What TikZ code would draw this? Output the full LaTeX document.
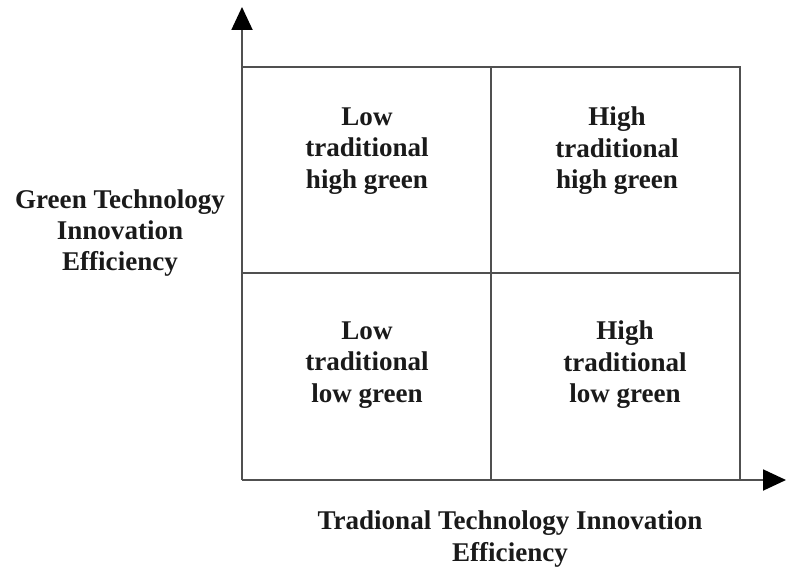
\documentclass[tikz,border=0pt]{standalone}
\usepackage{fontspec}
\setmainfont{Liberation Serif}
\usepackage{xcolor}
\usetikzlibrary{arrows.meta,calc}

\definecolor{gridgray}{HTML}{505050}
\definecolor{textblack}{HTML}{1A1A1A}

\begin{document}
\begin{tikzpicture}[x=0.02cm,y=-0.02cm,
    gridline/.style={draw=gridgray, line width=1.1pt},
    axisline/.style={gridline, -{Triangle[length=0.46cm,width=0.42cm,color=black]}},
    celltext/.style={align=center, text=textblack, font=\fontsize{15.4}{17.9}\selectfont\bfseries},
  ]
        \useasboundingbox (0,0) rectangle (786,567);

        \coordinate (o) at (242,480);
        \coordinate (ytip) at (242,7);
        \coordinate (xtip) at (786,480);
        \coordinate (tl) at (242,67);
        \coordinate (tr) at (740,67);
        \coordinate (br) at (740,480);
        \coordinate (tm) at (491,67);
        \coordinate (bm) at (491,480);
        \coordinate (ml) at (242,273);
        \coordinate (mr) at (740,273);

        % quadrant grid
        \draw[gridline] (tl) -- (tr) -- (br);
        \draw[gridline] (tm) -- (bm);
        \draw[gridline] (ml) -- (mr);

        % axes
        \draw[axisline] (o) -- (ytip);
        \draw[axisline] (o) -- (xtip);

        \node[celltext] (lh) at (367,151) {Low\\traditional\\high green};
        \node[celltext] (hh) at (617,151) {High\\traditional\\high green};
        \node[celltext] (ll) at (367,365) {Low\\traditional\\low green};
        \node[celltext] (hl) at (625,365) {High\\traditional\\low green};

        \node[celltext] (ylab) at (120,233) {Green Technology\\Innovation\\Efficiency};
        \node[celltext] (xlab) at (510,539) {Tradional Technology Innovation\\Efficiency};
    \end{tikzpicture}
\end{document}
